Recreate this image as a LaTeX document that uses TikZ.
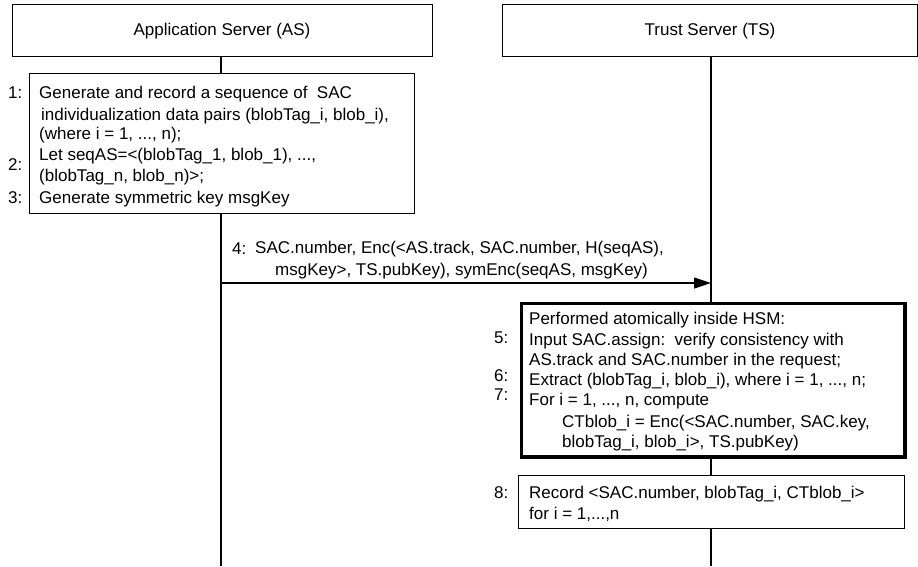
\documentclass[tikz,border=0pt]{standalone}
\usepackage{fontspec}
\setmainfont{Liberation Sans}
\usetikzlibrary{arrows.meta}
\begin{document}
\begin{tikzpicture}[x=1pt,y=-1pt,
  every node/.style={font=\fontsize{17}{20}\selectfont},
  box/.style={draw, line width=1.2pt, inner sep=0pt, anchor=north west},
  hsmbox/.style={draw, line width=3.5pt, inner sep=0pt, anchor=north west},
  txt/.style={inner sep=0pt, anchor=base west},
  ttl/.style={inner sep=0pt, anchor=base},
  ln/.style={line width=1.2pt},
  msg/.style={line width=1.2pt, -{Triangle[length=17pt,width=11pt]}}
]
\useasboundingbox (0,0) rectangle (918,566);
% lifeline x positions and bottom
\coordinate (asx) at (221,0);
\coordinate (tsx) at (711,0);
\coordinate (bot) at (0,566);
% headers
\node[box, minimum width=420pt, minimum height=52pt] (ash) at (12,4) {};
\node[ttl] (ast) at (222,35) {Application Server (AS)};
\node[box, minimum width=415pt, minimum height=52pt] (tsh) at (502,4) {};
\node[ttl] (tst) at (710,35) {Trust Server (TS)};
% box 1
\node[box, minimum width=385pt, minimum height=140pt] (b1) at (29,73) {};
\node[txt] (b1a) at (39,98) {Generate and record a sequence of~~SAC};
\node[txt] (b1b) at (41,120) {individualization data pairs (blobTag\_i, blob\_i),};
\node[txt] (b1c) at (39,139) {(where i = 1, ..., n);};
\node[txt] (b1d) at (39,160) {Let seqAS=<(blobTag\_1, blob\_1), ...,};
\node[txt] (b1e) at (39,181) {(blobTag\_n, blob\_n)>;};
\node[txt] (b1f) at (39,203) {Generate symmetric key msgKey};
\node[txt] (l1) at (8,98) {1:};
\node[txt] (l2) at (8,170) {2:};
\node[txt] (l3) at (8,203) {3:};
% HSM box
\node[hsmbox, minimum width=383.5pt, minimum height=153.5pt] (hsm) at (519.75,301.75) {};
\node[txt] (h1) at (529,324) {Performed atomically inside HSM:};
\node[txt] (h2) at (529,345) {Input SAC.assign:~~verify consistency with};
\node[txt] (h3) at (529,365) {AS.track and SAC.number in the request;};
\node[txt] (h4) at (529,385) {Extract (blobTag\_i, blob\_i), where i = 1, ..., n;};
\node[txt] (h5) at (529,405) {For i = 1, ..., n, compute};
\node[txt] (h6) at (562,427) {CTblob\_i = Enc(<SAC.number, SAC.key,};
\node[txt] (h7) at (562,447) {blobTag\_i, blob\_i>, TS.pubKey)};
\node[txt] (l5) at (494,343) {5:};
\node[txt] (l6) at (494,381) {6:};
\node[txt] (l7) at (494,400) {7:};
% record box
\node[box, minimum width=386pt, minimum height=53pt] (rec) at (518,475) {};
\node[txt] (r1) at (529,498) {Record <SAC.number, blobTag\_i, CTblob\_i>};
\node[txt] (r2) at (529,519) {for i = 1,...,n};
\node[txt] (l8) at (494,498) {8:};
% lifelines
\draw[ln] (ash.south -| asx) -- (b1.north -| asx);
\draw[ln] (b1.south -| asx) -- (bot -| asx);
\draw[ln] (tsh.south -| tsx) -- (hsm.north -| tsx);
\draw[ln] (hsm.south -| tsx) -- (rec.north -| tsx);
\draw[ln] (rec.south -| tsx) -- (bot -| tsx);
% message 4
\coordinate (m4) at (221,283);
\draw[msg] (m4) -- (m4 -| tsx);
\node[txt] (l4) at (232,254) {4:};
\node[txt] (m4a) at (255,253) {SAC.number, Enc(<AS.track, SAC.number, H(seqAS),};
\node[txt] (m4b) at (275,275) {msgKey>, TS.pubKey), symEnc(seqAS, msgKey)};
\end{tikzpicture}
\end{document}
